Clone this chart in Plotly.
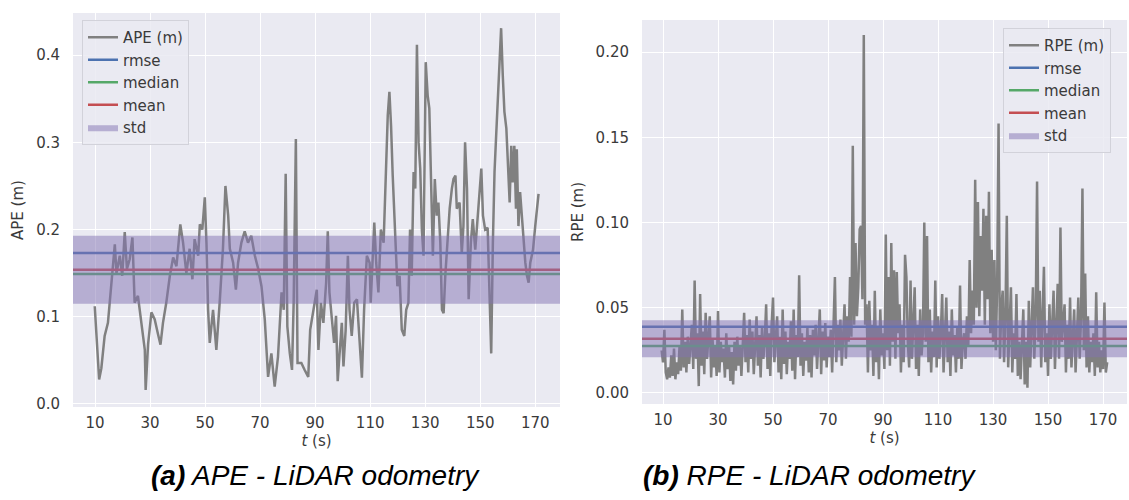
import plotly.graph_objects as go

# ---------------- data ----------------
ape_t = [9.9, 10.5, 11.5, 12.3, 13.5, 14.7, 15.9, 17.2, 17.8, 19.0, 19.9, 20.8, 21.6, 22.6, 23.6,
         24.4, 25.6, 26.8, 28.1, 28.4, 29.3, 30.5, 31.7, 32.9, 33.8, 34.7, 35.9, 37.2, 38.4, 39.6,
         41.0, 42.0, 43.2, 44.4, 45.4, 46.2, 47.5, 48.1, 49.0, 49.9, 50.5, 51.1, 51.7, 52.9, 54.1,
         55.3, 56.5, 57.4, 58.4, 59.0, 60.2, 61.2, 62.0, 63.2, 64.4, 65.6, 66.8, 68.1, 69.3, 70.5,
         71.7, 72.9, 74.1, 75.3, 76.5, 77.8, 78.6, 79.3, 79.9, 80.8, 81.6, 82.2, 83.0, 83.6, 85.0,
         86.2, 87.5, 88.2, 89.4, 90.6, 91.2, 92.1, 93.0, 94.0, 94.6, 95.2, 96.1, 96.9, 97.6, 98.2,
         98.8, 99.7, 100.3, 101.1, 101.9, 102.5, 103.3, 104.2, 105.2, 106.1, 107.0, 107.8, 108.8,
         109.8, 110.2, 111.5, 112.2, 113.0, 113.9, 114.9, 115.8, 116.4, 117.0, 117.6, 118.2, 119.1,
         119.9, 120.7, 121.5, 122.4, 123.1, 123.9, 124.5, 125.1, 125.8, 126.4, 127.0, 127.6, 128.2,
         128.8, 129.4, 130.2, 130.9, 131.5, 132.1, 132.8, 133.5, 134.2, 134.8, 135.5, 136.1, 136.7,
         137.3, 138.1, 138.9, 139.7, 140.3, 141.0, 141.5, 142.5, 143.3, 143.9, 144.5, 145.2, 145.8,
         146.6, 147.3, 148.2, 148.8, 149.6, 150.4, 151.0, 151.8, 152.7, 153.4, 154.0, 154.6, 155.2,
         155.8, 156.4, 157.0, 157.6, 158.2, 158.8, 159.5, 160.1, 160.7, 161.3, 161.8, 162.4, 163.0,
         163.3, 163.9, 164.5, 165.1, 165.8, 166.4, 167.0, 167.6, 168.2, 169.2, 170.0, 170.6, 171.2]
ape_v = [0.112, 0.083, 0.028, 0.041, 0.078, 0.093, 0.139, 0.183, 0.150, 0.170, 0.147, 0.197, 0.155, 0.166, 0.191,
         0.116, 0.124, 0.091, 0.062, 0.016, 0.069, 0.105, 0.097, 0.080, 0.068, 0.093, 0.116, 0.147, 0.168, 0.158,
         0.206, 0.185, 0.150, 0.178, 0.143, 0.189, 0.170, 0.206, 0.200, 0.237, 0.185, 0.108, 0.070, 0.108, 0.062,
         0.116, 0.178, 0.250, 0.216, 0.178, 0.162, 0.131, 0.162, 0.185, 0.198, 0.185, 0.193, 0.170, 0.155, 0.135,
         0.097, 0.031, 0.058, 0.020, 0.054, 0.128, 0.108, 0.264, 0.089, 0.058, 0.039, 0.116, 0.304, 0.047, 0.047,
         0.039, 0.031, 0.085, 0.108, 0.131, 0.062, 0.116, 0.093, 0.139, 0.198, 0.128, 0.097, 0.070, 0.101, 0.026,
         0.054, 0.093, 0.043, 0.085, 0.170, 0.108, 0.078, 0.116, 0.120, 0.070, 0.030, 0.108, 0.170,
         0.162, 0.116, 0.208, 0.162, 0.128, 0.200, 0.185, 0.270, 0.331, 0.358, 0.319, 0.262, 0.204,
         0.135, 0.147, 0.085, 0.078, 0.108, 0.116, 0.200, 0.147, 0.266, 0.247, 0.412, 0.300, 0.270,
         0.200, 0.170, 0.392, 0.354, 0.339, 0.254, 0.170, 0.258, 0.216, 0.231, 0.185, 0.108, 0.104,
         0.147, 0.193, 0.224, 0.247, 0.258, 0.262, 0.224, 0.231, 0.173, 0.204, 0.300, 0.247, 0.120,
         0.185, 0.212, 0.177, 0.204, 0.231, 0.270, 0.216, 0.200, 0.202, 0.108, 0.058, 0.185, 0.266,
         0.308, 0.350, 0.377, 0.431, 0.377, 0.335, 0.316, 0.262, 0.231, 0.296, 0.254, 0.296, 0.224,
         0.292, 0.204, 0.243, 0.216, 0.193, 0.162, 0.147, 0.139, 0.162, 0.177, 0.204, 0.224, 0.241]

# APE statistics
ape_rmse, ape_median, ape_mean, ape_std = 0.173, 0.149, 0.154, 0.039

# RPE sampled every 0.5 s starting at 9.5 s
rpe_start, rpe_step = 9.5, 0.5
rpe_v = [
    # 9.5 - 19.5
    0.025, 0.018, 0.037, 0.012, 0.008, 0.015, 0.009, 0.022, 0.010, 0.026, 0.008, 0.018, 0.011, 0.027, 0.013,
    0.049, 0.015, 0.030, 0.012, 0.033, 0.017,
    # 20 - 29.5
    0.028, 0.040, 0.014, 0.066, 0.020, 0.035, 0.004, 0.058, 0.016, 0.036, 0.011, 0.047, 0.020, 0.030, 0.045,
    0.009, 0.032, 0.015, 0.027, 0.010,
    # 30 - 39.5
    0.048, 0.012, 0.030, 0.018, 0.026, 0.009, 0.035, 0.014, 0.028, 0.007, 0.024, 0.005, 0.030, 0.013, 0.033,
    0.016, 0.027, 0.010, 0.031, 0.047,
    # 40 - 49.5
    0.018, 0.034, 0.012, 0.043, 0.020, 0.036, 0.011, 0.032, 0.045, 0.016, 0.034, 0.009, 0.038, 0.020, 0.031,
    0.052, 0.014, 0.035, 0.010, 0.040,
    # 50 - 59.5
    0.056, 0.018, 0.030, 0.045, 0.012, 0.033, 0.008, 0.049, 0.017, 0.036, 0.011, 0.030, 0.020, 0.042, 0.013,
    0.049, 0.008, 0.034, 0.021, 0.069,
    # 60 - 69.5
    0.016, 0.035, 0.010, 0.030, 0.019, 0.038, 0.012, 0.034, 0.009, 0.037, 0.022, 0.040, 0.014, 0.031, 0.049,
    0.011, 0.036, 0.019, 0.041, 0.015,
    # 70 - 79.5
    0.033, 0.021, 0.037, 0.012, 0.035, 0.068, 0.018, 0.040, 0.025, 0.043, 0.016, 0.037, 0.052, 0.020, 0.045,
    0.030, 0.068, 0.033, 0.145, 0.040,
    # 80 - 89.5
    0.088, 0.045, 0.062, 0.096, 0.098, 0.055, 0.210, 0.040, 0.052, 0.012, 0.054, 0.025, 0.040, 0.010, 0.060,
    0.018, 0.038, 0.008, 0.049, 0.022,
    # 90 - 99.5
    0.035, 0.014, 0.093, 0.025, 0.068, 0.016, 0.088, 0.030, 0.072, 0.020, 0.071, 0.035, 0.052, 0.012, 0.040,
    0.018, 0.081, 0.068, 0.030, 0.015,
    # 100 - 109.5
    0.066, 0.020, 0.045, 0.062, 0.014, 0.040, 0.010, 0.049, 0.022, 0.035, 0.100, 0.030, 0.092, 0.018, 0.049,
    0.012, 0.036, 0.021, 0.066, 0.015,
    # 110 - 119.5
    0.045, 0.020, 0.035, 0.058, 0.012, 0.040, 0.056, 0.018, 0.036, 0.010, 0.049, 0.022, 0.034, 0.012, 0.038,
    0.020, 0.063, 0.014, 0.030, 0.035,
    # 120 - 129.5
    0.020, 0.045, 0.028, 0.078, 0.035, 0.060, 0.040, 0.125, 0.050, 0.112, 0.045, 0.092, 0.060, 0.108, 0.040,
    0.104, 0.055, 0.118, 0.035, 0.084,
    # 130 - 139.5
    0.030, 0.078, 0.025, 0.064, 0.158, 0.020, 0.050, 0.060, 0.018, 0.045, 0.104, 0.015, 0.040, 0.062, 0.012,
    0.035, 0.020, 0.058, 0.010, 0.030,
    # 140 - 149.5
    0.008, 0.025, 0.049, 0.005, 0.030, 0.003, 0.054, 0.015, 0.040, 0.062, 0.020, 0.045, 0.124, 0.030, 0.060,
    0.015, 0.045, 0.074, 0.018, 0.035,
    # 150 - 159.5
    0.010, 0.052, 0.020, 0.038, 0.060, 0.014, 0.040, 0.064, 0.020, 0.097, 0.030, 0.045, 0.052, 0.012, 0.040,
    0.020, 0.056, 0.015, 0.035, 0.049,
    # 160 - 169.5
    0.012, 0.038, 0.056, 0.020, 0.045, 0.120, 0.025, 0.070, 0.015, 0.045, 0.012, 0.030, 0.018, 0.035, 0.010,
    0.059, 0.015, 0.030, 0.012, 0.025,
    # 170 - 171.5
    0.014, 0.053, 0.012, 0.018,
]
rpe_t = [rpe_start + rpe_step * i for i in range(len(rpe_v))]

# RPE statistics
rpe_rmse, rpe_median, rpe_mean, rpe_std = 0.0388, 0.0276, 0.0318, 0.0108

x_ticks = [10, 30, 50, 70, 90, 110, 130, 150, 170]
ape_ticks = [0.0, 0.1, 0.2, 0.3, 0.4]
rpe_ticks = [0.00, 0.05, 0.10, 0.15, 0.20]

# ---------------- style ----------------
W, H = 1129, 500
BG = "#EAEAF2"
GRAY = "#808080"
C_RMSE, C_MED, C_MEAN = "#4C72B0", "#55A868", "#C44E52"
C_STD = "rgba(129,114,178,0.5)"
FONT = "DejaVu Sans"
TXT = "#3a3a3a"

ape_xr = [2.0, 179.0]
ape_yr = [-0.0035, 0.4484]
rpe_xr = [2.36, 178.7]
rpe_yr = [-0.0065, 0.2188]

fig = go.Figure()


def add_panel(xa, ya, leg, name, t, v, rmse, med, mean, std, xr):
    fig.add_trace(go.Scatter(x=t, y=v, mode="lines", name=name, xaxis=xa, yaxis=ya, legend=leg,
                             line=dict(color=GRAY, width=2.5), legendrank=1))
    fig.add_trace(go.Scatter(x=xr, y=[rmse, rmse], mode="lines", name="rmse", xaxis=xa, yaxis=ya,
                             legend=leg, line=dict(color=C_RMSE, width=2.5), legendrank=2))
    fig.add_trace(go.Scatter(x=xr, y=[med, med], mode="lines", name="median", xaxis=xa, yaxis=ya,
                             legend=leg, line=dict(color=C_MED, width=2.5), legendrank=3))
    fig.add_trace(go.Scatter(x=xr, y=[mean, mean], mode="lines", name="mean", xaxis=xa, yaxis=ya,
                             legend=leg, line=dict(color=C_MEAN, width=2.5), legendrank=4))
    lo, hi = mean - std, mean + std
    fig.add_trace(go.Scatter(x=[xr[0], xr[1], xr[1], xr[0], xr[0]], y=[lo, lo, hi, hi, lo],
                             mode="lines", fill="toself", fillcolor=C_STD, name="std",
                             xaxis=xa, yaxis=ya, legend=leg, line=dict(width=0, color=C_STD),
                             legendrank=5))


add_panel("x", "y", "legend", "APE (m)", ape_t, ape_v, ape_rmse, ape_median, ape_mean, ape_std, ape_xr)
add_panel("x2", "y2", "legend2", "RPE (m)", rpe_t, rpe_v, rpe_rmse, rpe_median, rpe_mean, rpe_std, rpe_xr)

axis_common = dict(showgrid=True, gridcolor="white", gridwidth=1.3, zeroline=False, showline=False,
                   ticks="", automargin=False, tickfont=dict(family=FONT, size=15, color=TXT))

leg_common = dict(bgcolor="rgba(234,234,242,0.85)", bordercolor="#D2D2DA", borderwidth=1,
                  font=dict(family=FONT, size=15, color=TXT), itemwidth=30,
                  xref="paper", yref="paper", yanchor="top", xanchor="left",
                  traceorder="normal", tracegroupgap=0)

fig.update_layout(
    width=W, height=H, margin=dict(l=0, r=0, t=0, b=0, autoexpand=False),
    paper_bgcolor="white", plot_bgcolor=BG, showlegend=True,
    xaxis=dict(domain=[73 / W, 560 / W], range=ape_xr, tickvals=x_ticks, anchor="y",
               title=dict(text="<i>t</i> (s)", font=dict(family=FONT, size=15, color=TXT), standoff=0),
               ticklabelstandoff=5, **axis_common),
    yaxis=dict(domain=[1 - 407 / H, 1 - 13 / H], range=ape_yr, tickvals=ape_ticks, tickformat=".1f",
               anchor="x", title=dict(text="APE (m)", font=dict(family=FONT, size=15, color=TXT), standoff=8),
               ticklabelstandoff=12, **axis_common),
    xaxis2=dict(domain=[642 / W, 1127 / W], range=rpe_xr, tickvals=x_ticks, anchor="y2",
                title=dict(text="<i>t</i> (s)", font=dict(family=FONT, size=15, color=TXT), standoff=0),
                ticklabelstandoff=5, **axis_common),
    yaxis2=dict(domain=[1 - 404 / H, 1 - 20 / H], range=rpe_yr, tickvals=rpe_ticks, tickformat=".2f",
                anchor="x2", title=dict(text="RPE (m)", font=dict(family=FONT, size=15, color=TXT), standoff=8),
                ticklabelstandoff=12, **axis_common),
    legend=dict(x=82 / W, y=1 - 20 / H, **leg_common),
    legend2=dict(x=1003 / W, y=1 - 28 / H, **leg_common),
    annotations=[
        dict(text="<b><i>(a)</i></b><i> APE - LiDAR odometry</i>", xref="paper", yref="paper",
             x=315 / W, y=1 - 475 / H, xanchor="center", yanchor="middle", showarrow=False,
             font=dict(family="Liberation Sans, Arial", size=28, color="black")),
        dict(text="<b><i>(b)</i></b><i> RPE - LiDAR odometry</i>", xref="paper", yref="paper",
             x=809 / W, y=1 - 475 / H, xanchor="center", yanchor="middle", showarrow=False,
             font=dict(family="Liberation Sans, Arial", size=28, color="black")),
    ],
)

fig.write_html("out.html")
